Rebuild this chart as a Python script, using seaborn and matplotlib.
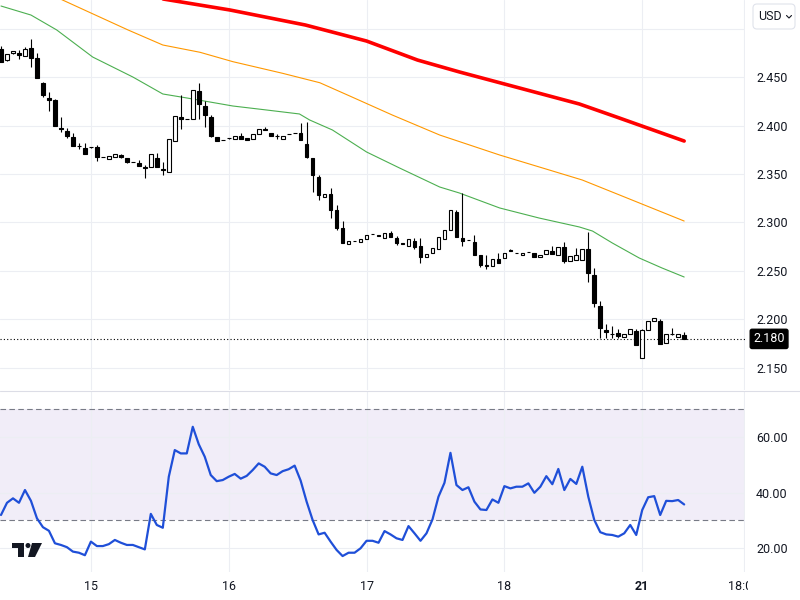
import numpy as np
import pandas as pd
import matplotlib
matplotlib.use("Agg")
import matplotlib.pyplot as plt
import seaborn as sns
from matplotlib.patches import FancyBboxPatch, Rectangle, Circle, Polygon
from matplotlib.lines import Line2D
from matplotlib.transforms import Bbox, TransformedBbox, IdentityTransform

# hourly candles
opens = [2.4789, 2.4675, 2.4744, 2.4751, 2.4717, 2.4796, 2.4696, 2.4441, 2.4286, 2.4260,
         2.3977, 2.3943, 2.3881, 2.3790, 2.3771, 2.3775, 2.3775, 2.3678, 2.3658, 2.3678,
         2.3693, 2.3665, 2.3621, 2.3610, 2.3572, 2.3569, 2.3668, 2.3552, 2.3524, 2.3843,
         2.4091, 2.4064, 2.4064, 2.4356, 2.4201, 2.4091, 2.3878, 2.3850, 2.3868, 2.3864,
         2.3892, 2.3874, 2.3864, 2.3912, 2.3967, 2.3920, 2.3895, 2.3864, 2.3912, 2.3920,
         2.3920, 2.3806, 2.3660, 2.3470, 2.3266, 2.3294, 2.3129, 2.2947, 2.2775, 2.2810,
         2.2796, 2.2827, 2.2882, 2.2876, 2.2837, 2.2895, 2.2843, 2.2792, 2.2753, 2.2812,
         2.2758, 2.2642, 2.2682, 2.2724, 2.2827, 2.2923, 2.3110, 2.2837, 2.2817, 2.2796,
         2.2665, 2.2562, 2.2555, 2.2621, 2.2631, 2.2712, 2.2685, 2.2662, 2.2693, 2.2682,
         2.2641, 2.2672, 2.2706, 2.2665, 2.2747, 2.2606, 2.2614, 2.2614, 2.2727, 2.2459,
         2.2139, 2.1892, 2.1855, 2.1864, 2.1823, 2.1854, 2.1881, 2.1600, 2.1889, 2.1988,
         2.1985, 2.1755, 2.1847, 2.1823, 2.1840]
highs = [2.4820, 2.4740, 2.4768, 2.4782, 2.4813, 2.4892, 2.4744, 2.4445, 2.4348, 2.4273,
         2.4088, 2.3977, 2.3920, 2.3817, 2.3817, 2.3780, 2.3796, 2.3680, 2.3684, 2.3705,
         2.3703, 2.3667, 2.3623, 2.3644, 2.3593, 2.3703, 2.3713, 2.3621, 2.3858, 2.4098,
         2.4314, 2.4066, 2.4366, 2.4441, 2.4256, 2.4108, 2.3880, 2.3852, 2.3870, 2.3889,
         2.3926, 2.3876, 2.3909, 2.3967, 2.3981, 2.3920, 2.3909, 2.3895, 2.3914, 2.3922,
         2.4022, 2.4040, 2.3660, 2.3490, 2.3290, 2.3359, 2.3180, 2.3015, 2.2810, 2.2812,
         2.2827, 2.2871, 2.2884, 2.2876, 2.2895, 2.2915, 2.2864, 2.2792, 2.2830, 2.2837,
         2.2837, 2.2672, 2.2734, 2.2847, 2.2923, 2.3129, 2.3129, 2.3307, 2.2819, 2.2871,
         2.2665, 2.2665, 2.2621, 2.2682, 2.2689, 2.2723, 2.2687, 2.2682, 2.2695, 2.2682,
         2.2662, 2.2717, 2.2755, 2.2747, 2.2802, 2.2658, 2.2734, 2.2727, 2.2900, 2.2528,
         2.2191, 2.1950, 2.1935, 2.1902, 2.1847, 2.1899, 2.1902, 2.1900, 2.1985, 2.2012,
         2.2005, 2.1851, 2.1916, 2.1851, 2.1868]
lows = [2.4655, 2.4665, 2.4740, 2.4689, 2.4715, 2.4606, 2.4487, 2.4297, 2.4145, 2.3998,
        2.3936, 2.3868, 2.3792, 2.3761, 2.3703, 2.3770, 2.3637, 2.3676, 2.3656, 2.3676,
        2.3670, 2.3610, 2.3619, 2.3586, 2.3456, 2.3569, 2.3575, 2.3490, 2.3524, 2.3843,
        2.3961, 2.4062, 2.4064, 2.4064, 2.3988, 2.3878, 2.3843, 2.3848, 2.3866, 2.3864,
        2.3864, 2.3854, 2.3864, 2.3912, 2.3957, 2.3895, 2.3861, 2.3864, 2.3910, 2.3918,
        2.3851, 2.3660, 2.3314, 2.3230, 2.3266, 2.3050, 2.2920, 2.2789, 2.2775, 2.2808,
        2.2796, 2.2827, 2.2880, 2.2856, 2.2837, 2.2853, 2.2768, 2.2775, 2.2753, 2.2725,
        2.2586, 2.2642, 2.2682, 2.2724, 2.2827, 2.2923, 2.2853, 2.2758, 2.2815, 2.2665,
        2.2538, 2.2518, 2.2555, 2.2586, 2.2631, 2.2703, 2.2683, 2.2662, 2.2691, 2.2641,
        2.2641, 2.2672, 2.2672, 2.2665, 2.2580, 2.2606, 2.2614, 2.2614, 2.2390, 2.2132,
        2.1806, 2.1806, 2.1805, 2.1806, 2.1823, 2.1854, 2.1737, 2.1600, 2.1889, 2.1988,
        2.1744, 2.1755, 2.1840, 2.1823, 2.1795]
closes = [2.4658, 2.4734, 2.4765, 2.4724, 2.4792, 2.4693, 2.4487, 2.4314, 2.4259, 2.3998,
          2.3967, 2.3892, 2.3792, 2.3785, 2.3703, 2.3775, 2.3678, 2.3678, 2.3682, 2.3703,
          2.3672, 2.3624, 2.3621, 2.3586, 2.3559, 2.3703, 2.3575, 2.3541, 2.3858, 2.4098,
          2.4067, 2.4064, 2.4366, 2.4222, 2.4111, 2.3892, 2.3843, 2.3850, 2.3868, 2.3889,
          2.3864, 2.3854, 2.3909, 2.3961, 2.3957, 2.3895, 2.3891, 2.3895, 2.3912, 2.3920,
          2.3851, 2.3678, 2.3490, 2.3280, 2.3290, 2.3129, 2.2947, 2.2792, 2.2810, 2.2810,
          2.2827, 2.2871, 2.2882, 2.2856, 2.2895, 2.2853, 2.2792, 2.2775, 2.2830, 2.2751,
          2.2648, 2.2672, 2.2734, 2.2847, 2.2923, 2.3129, 2.2853, 2.2813, 2.2817, 2.2665,
          2.2562, 2.2555, 2.2621, 2.2586, 2.2689, 2.2703, 2.2685, 2.2682, 2.2693, 2.2641,
          2.2662, 2.2717, 2.2672, 2.2747, 2.2603, 2.2658, 2.2665, 2.2727, 2.2476, 2.2167,
          2.1915, 2.1874, 2.1850, 2.1833, 2.1847, 2.1899, 2.1737, 2.1889, 2.1985, 2.2012,
          2.1744, 2.1851, 2.1847, 2.1851, 2.1800]

# moving averages (bar index, price)
green_idx = [0, 5, 9.3, 15.3, 22, 27, 31, 38.7, 44.3, 49.8, 51.5, 55.3, 61, 66.5,
             73.2, 76.5, 83.2, 89.8, 96.5, 98.7, 102, 106.5, 110.3, 114]
green_val = [2.5232, 2.5139, 2.4985, 2.4706, 2.4500, 2.4325, 2.4284, 2.4201, 2.4160,
             2.4119, 2.4057, 2.3954, 2.3727, 2.3562, 2.3366, 2.3304, 2.3150, 2.3046,
             2.2954, 2.2912, 2.2789, 2.2634, 2.2531, 2.2438]
orange_idx = [9.7, 21.2, 27, 33.2, 38.7, 47, 53.2, 58.2, 65.3, 73.2, 83.2, 91.5, 97, 103.2, 114]
orange_val = [2.5310, 2.4985, 2.4830, 2.4755, 2.4658, 2.4538, 2.4441, 2.4304, 2.4108,
              2.3902, 2.3696, 2.3541, 2.3438, 2.3284, 2.3015]
red_idx = [26.5, 38.2, 50.8, 61, 69.5, 76.5, 86.5, 96.5, 103.2, 114]
red_val = [2.5310, 2.5191, 2.5036, 2.4871, 2.4675, 2.4552, 2.4387, 2.4222, 2.4077, 2.3840]

rsi_vals = [31.9, 36.3, 37.9, 36.3, 40.9, 37.0, 30.7, 27.5, 26.2, 21.7,
            21.1, 20.3, 18.7, 18.3, 17.4, 22.3, 20.7, 20.7, 21.4, 22.9,
            21.9, 21.1, 21.1, 20.3, 19.5, 32.3, 28.3, 27.3, 45.7, 55.3,
            54.1, 54.1, 63.7, 57.4, 52.9, 46.3, 44.1, 44.5, 45.7, 46.7,
            45.0, 46.0, 48.1, 50.5, 49.3, 46.9, 46.3, 47.7, 48.4, 49.7,
            44.3, 36.7, 30.1, 24.9, 25.5, 22.3, 19.3, 17.1, 18.3, 18.3,
            19.9, 22.6, 22.6, 21.9, 26.1, 24.9, 23.5, 22.9, 27.9, 25.3,
            22.6, 25.3, 30.3, 38.5, 43.5, 54.3, 42.7, 40.9, 41.9, 36.7,
            33.9, 33.7, 37.5, 36.3, 42.3, 41.5, 42.1, 42.1, 43.3, 39.9,
            42.1, 45.9, 43.0, 48.5, 40.9, 44.9, 43.1, 49.3, 38.5, 30.1,
            25.7, 24.9, 24.7, 24.1, 25.3, 28.3, 24.7, 33.7, 38.3, 38.7,
            31.9, 37.0, 36.9, 37.3, 35.7]

day_ticks = [15, 38, 61, 84, 107, 124]
day_labels = ["15", "16", "17", "18", "21", ""]
price_ticks = [2.150, 2.200, 2.250, 2.300, 2.350, 2.400, 2.450]
rsi_ticks = [20, 40, 60]

df = pd.DataFrame({"open": opens, "high": highs, "low": lows, "close": closes})
df["idx"] = np.arange(len(df))
df["up"] = df["close"] >= df["open"]

sns.set_style("white")
plt.rcParams["font.family"] = ["Roboto", "DejaVu Sans"]
TXT = "#131722"
GRID = "#eceef3"
FS = 9

fig = plt.figure(figsize=(8, 6), dpi=100)
ax = fig.add_axes([0, 210 / 600, 745 / 800, 390 / 600])
ax2 = fig.add_axes([0, 28 / 600, 745 / 800, 181 / 600])

xlim = (-1 / 6, 124.15)

# ---- price pane
ax.vlines(df["idx"], df["low"], df["high"], color="black", linewidth=0.8, zorder=3)
ax.bar(df["idx"], (df["close"] - df["open"]).abs(), bottom=df[["open", "close"]].min(axis=1),
       width=0.62, color=np.where(df["up"], "white", "black"), edgecolor="black",
       linewidth=0.8, zorder=4)

sns.lineplot(x=green_idx, y=green_val, ax=ax, color="#4caf50", linewidth=0.8, zorder=2)
sns.lineplot(x=orange_idx, y=orange_val, ax=ax, color="#ff9800", linewidth=0.8, zorder=2)
sns.lineplot(x=red_idx, y=red_val, ax=ax, color="#ff0000", linewidth=2.6, zorder=2)

last = closes[-1]
ax.axhline(last, color="black", linewidth=0.8, linestyle=(0, (1, 2)), zorder=5)
ax.axhline(2.5, color=GRID, linewidth=0.8, zorder=0)

ax.set_xlim(*xlim)
ax.set_ylim(2.1273, 2.5294)
ax.set_xticks(day_ticks)
ax.set_xticklabels([])
ax.set_yticks(price_ticks)
ax.set_yticklabels([f"{v:.3f}" for v in price_ticks])
ax.yaxis.tick_right()
ax.tick_params(axis="y", length=0, pad=8, labelsize=FS, labelcolor=TXT)
ax.tick_params(axis="x", length=0)
ax.grid(True, color=GRID, linewidth=0.8)
ax.set_axisbelow(True)
ax.set_xlabel("")
ax.set_ylabel("")
for s in ax.spines.values():
    s.set_visible(False)

ax.annotate(f"{last:.3f}", xy=(1.0, last), xycoords=("axes fraction", "data"),
            xytext=(6, 0), textcoords="offset points", ha="left", va="center",
            color="white", fontsize=FS, annotation_clip=False,
            bbox=dict(boxstyle="round,pad=0.25,rounding_size=0.15", fc="black", ec="black"))

# ---- RSI pane
ax2.axhspan(30, 70, color="#7e57c2", alpha=0.1, linewidth=0, zorder=0)
ax2.axhline(70, color="#787b86", linewidth=0.8, linestyle=(0, (5, 3)), zorder=1)
ax2.axhline(30, color="#787b86", linewidth=0.8, linestyle=(0, (5, 3)), zorder=1)
sns.lineplot(x=df["idx"], y=rsi_vals, ax=ax2, color="#1f4fd8", linewidth=1.6, zorder=3)

ax2.set_xlim(*xlim)
ax2.set_ylim(11.35, 76.6)
ax2.set_xticks(day_ticks)
ax2.set_xticklabels(day_labels)
ax2.get_xticklabels()[4].set_fontweight("bold")
ax2.set_yticks(rsi_ticks)
ax2.set_yticklabels([f"{v:.2f}" for v in rsi_ticks])
ax2.yaxis.tick_right()
ax2.tick_params(axis="y", length=0, pad=8, labelsize=FS, labelcolor=TXT)
ax2.tick_params(axis="x", length=0, pad=6, labelsize=FS, labelcolor=TXT)
ax2.grid(True, color=GRID, linewidth=0.8)
ax2.set_axisbelow(True)
ax2.set_xlabel("")
ax2.set_ylabel("")
for s in ax2.spines.values():
    s.set_visible(False)

# clipped time label at the right edge
t = ax2.text(day_ticks[-1], -0.079, "18:00", transform=ax2.get_xaxis_transform(),
             ha="center", va="center", fontsize=FS, color=TXT, clip_on=True)
t.set_clip_box(TransformedBbox(Bbox.from_extents(0, 0, 748 / 800, 1), fig.transFigure))

# pane separator
fig.add_artist(Line2D([0, 1], [209.5 / 600, 209.5 / 600], color="#dcdde6", linewidth=0.8))

# currency button
px = IdentityTransform()
fig.add_artist(FancyBboxPatch((753, 600 - 29), 42, 25, boxstyle="round,pad=0,rounding_size=4",
                              fc="white", ec="#e0e3eb", linewidth=0.8, transform=px))
fig.text(758, 600 - 17, "USD", transform=px, ha="left", va="center", fontsize=FS, color=TXT)
fig.add_artist(Line2D([786.5, 789, 791.5], [600 - 15.5, 600 - 18, 600 - 15.5],
                      color=TXT, linewidth=0.8, transform=px))

# logo
fig.add_artist(Rectangle((12, 600 - 548), 12, 5, fc=TXT, ec="none", transform=px))
fig.add_artist(Rectangle((18, 600 - 557), 6, 14, fc=TXT, ec="none", transform=px))
fig.add_artist(Circle((28, 600 - 545.5), 2.5, fc=TXT, ec="none", transform=px))
fig.add_artist(Polygon([(32, 600 - 543), (42, 600 - 543), (35, 600 - 557), (28, 600 - 557)],
                       closed=True, fc=TXT, ec="none", transform=px))

fig.savefig("out.png", dpi=100)
plt.close(fig)
